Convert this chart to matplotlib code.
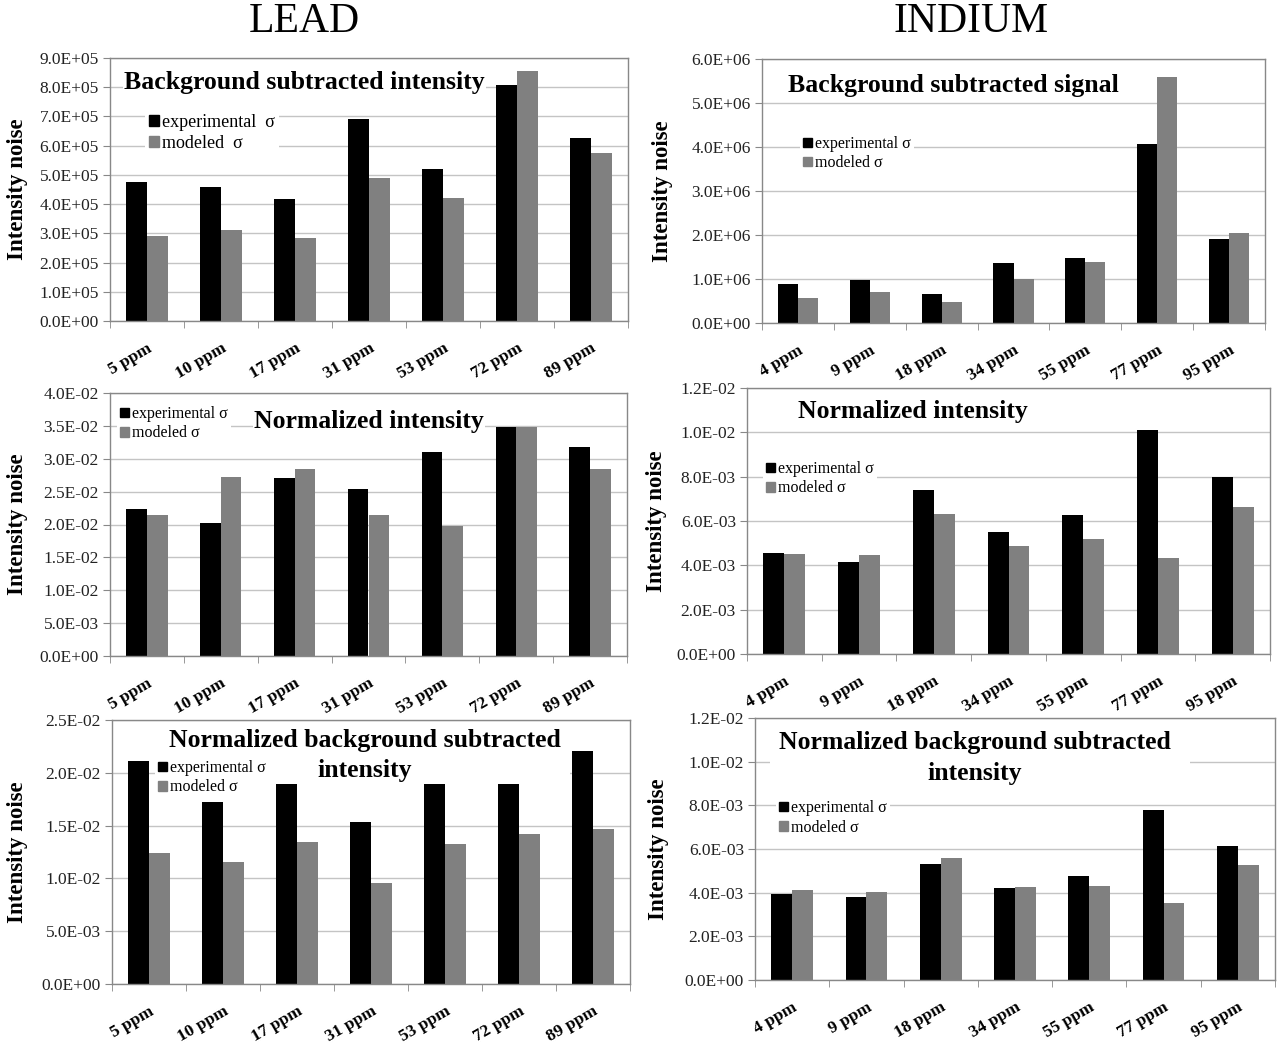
import numpy as np
import matplotlib
matplotlib.use('Agg')
import matplotlib.pyplot as plt
from matplotlib.patches import Patch, Rectangle
from matplotlib.ticker import FuncFormatter, FixedLocator

plt.rcParams['font.family'] = ['Liberation Serif', 'DejaVu Serif']

# concentrations
lead_ppm = ['5 ppm', '10 ppm', '17 ppm', '31 ppm', '53 ppm', '72 ppm', '89 ppm']
indium_ppm = ['4 ppm', '9 ppm', '18 ppm', '34 ppm', '55 ppm', '77 ppm', '95 ppm']

# lead: background subtracted intensity
pb_bgsub_exp = [4.75e5, 4.57e5, 4.18e5, 6.91e5, 5.21e5, 8.09e5, 6.25e5]
pb_bgsub_mod = [2.90e5, 3.13e5, 2.84e5, 4.89e5, 4.22e5, 8.54e5, 5.76e5]

# indium: background subtracted signal
in_bgsub_exp = [0.88e6, 0.975e6, 0.67e6, 1.36e6, 1.48e6, 4.07e6, 1.91e6]
in_bgsub_mod = [0.57e6, 0.71e6, 0.47e6, 1.01e6, 1.39e6, 5.58e6, 2.05e6]

# lead: normalized intensity
pb_norm_exp = [22.3e-3, 20.2e-3, 27.0e-3, 25.4e-3, 31.0e-3, 34.8e-3, 31.8e-3]
pb_norm_mod = [21.5e-3, 27.2e-3, 28.5e-3, 21.5e-3, 19.7e-3, 34.8e-3, 28.5e-3]

# indium: normalized intensity
in_norm_exp = [4.56e-3, 4.14e-3, 7.41e-3, 5.50e-3, 6.28e-3, 10.11e-3, 7.97e-3]
in_norm_mod = [4.53e-3, 4.47e-3, 6.33e-3, 4.86e-3, 5.20e-3, 4.35e-3, 6.65e-3]

# lead: normalized background subtracted intensity
pb_nbg_exp = [21.1e-3, 17.2e-3, 18.9e-3, 15.3e-3, 18.9e-3, 18.9e-3, 22.1e-3]
pb_nbg_mod = [12.4e-3, 11.6e-3, 13.4e-3, 9.6e-3, 13.3e-3, 14.2e-3, 14.7e-3]

# indium: normalized background subtracted intensity
in_nbg_exp = [3.93e-3, 3.82e-3, 5.30e-3, 4.21e-3, 4.75e-3, 7.79e-3, 6.16e-3]
in_nbg_mod = [4.13e-3, 4.04e-3, 5.61e-3, 4.25e-3, 4.32e-3, 3.53e-3, 5.28e-3]

W, H = 1280, 1043


def box(l, r, t, b):
    # pixel box -> figure fraction rect
    return [l / W, 1 - b / H, (r - l) / W, (b - t) / H]


def panel(fig, rect, cats, exp, mod, ymax, ystep, ylab_x, leg_pos, leg_size, labels):
    ax = fig.add_axes(rect)
    x = np.arange(len(cats))
    bw = 0.28
    ax.bar(x - bw / 2, exp, bw, color='black', zorder=2)
    ax.bar(x + bw / 2, mod, bw, color='#808080', zorder=2)
    ax.set_xlim(-0.5, len(cats) - 0.5)
    ax.set_ylim(0, ymax)

    ax.yaxis.set_major_locator(FixedLocator(np.arange(0, ymax + ystep / 2, ystep)))
    ax.yaxis.set_major_formatter(FuncFormatter(lambda v, p: f'{v:.1E}'))
    ax.yaxis.grid(True, color='#c4c4c4', linewidth=1.0)
    ax.set_axisbelow(True)

    ax.set_xticks(x)
    ax.set_xticklabels(cats, rotation=30, ha='right', va='top',
                       rotation_mode='anchor', fontweight='bold', fontsize=12.5)
    ax.set_xticks(np.arange(-0.5, len(cats)), minor=True)
    ax.tick_params(axis='x', which='major', length=0, pad=14)
    ax.tick_params(axis='x', which='minor', length=5, color='#888888')
    ax.tick_params(axis='y', length=5, color='#888888', labelsize=12.5,
                   labelcolor='#222222', pad=3)
    for s in ax.spines.values():
        s.set_color('#888888')
        s.set_linewidth(1.0)

    ax.set_ylabel('Intensity noise', fontsize=16.5, fontweight='bold')
    ax.yaxis.set_label_coords(ylab_x, 0.5)

    handles = [Patch(color='black'), Patch(color='#808080')]
    leg = ax.legend(handles, labels, loc='upper left', bbox_to_anchor=leg_pos,
                    fontsize=leg_size, frameon=True, fancybox=False,
                    handlelength=0.55, handleheight=0.55, handletextpad=0.2,
                    labelspacing=0.2, borderpad=0.2, borderaxespad=0)
    leg.get_frame().set_facecolor('white')
    leg.get_frame().set_edgecolor('none')
    leg.get_frame().set_alpha(1)
    leg.set_zorder(5)
    return ax


def title_one(ax, text, pos):
    ax.text(pos[0], pos[1], text, transform=ax.transAxes, ha='center',
            va='center', fontsize=18.5, fontweight='bold',
            bbox=dict(facecolor='white', edgecolor='none', pad=1), zorder=5)


def title_two(ax, lines, x, ys, cover):
    # white patch behind both lines hides the gridlines, bars stay on top
    x0, x1, y0, y1 = cover
    ax.add_patch(Rectangle((x0, y0), x1 - x0, y1 - y0, transform=ax.transAxes,
                           facecolor='white', edgecolor='none', zorder=1))
    for txt, y in zip(lines, ys):
        ax.text(x, y, txt, transform=ax.transAxes, ha='center', va='center',
                fontsize=18.5, fontweight='bold', zorder=5)


fig = plt.figure(figsize=(12.8, 10.43), dpi=100)

fig.text(304 / W, 1 - 22 / H, 'LEAD', ha='center', va='center', fontsize=30)
fig.text(971 / W, 1 - 22 / H, 'INDIUM', ha='center', va='center', fontsize=30)

lab_wide = ['experimental  σ', 'modeled  σ']
lab = ['experimental σ', 'modeled σ']

ax1 = panel(fig, box(110, 628, 58, 321), lead_ppm, pb_bgsub_exp, pb_bgsub_mod,
            9e5, 1e5, -0.158, (0.068, 0.80), 13, lab_wide)
title_one(ax1, 'Background subtracted intensity', (0.376, 0.905))

ax2 = panel(fig, box(762, 1265, 59, 323), indium_ppm, in_bgsub_exp, in_bgsub_mod,
            6e6, 1e6, -0.177, (0.076, 0.72), 11.5, lab)
title_one(ax2, 'Background subtracted signal', (0.380, 0.898))

ax3 = panel(fig, box(110, 627, 393, 656), lead_ppm, pb_norm_exp, pb_norm_mod,
            0.04, 0.005, -0.158, (0.0135, 0.962), 11.5, lab)
title_one(ax3, 'Normalized intensity', (0.501, 0.89))

ax4 = panel(fig, box(747, 1270, 388, 654), indium_ppm, in_norm_exp, in_norm_mod,
            0.012, 0.002, -0.153, (0.031, 0.737), 11.5, lab)
title_one(ax4, 'Normalized intensity', (0.317, 0.91))

ax5 = panel(fig, box(112, 630, 720, 984), lead_ppm, pb_nbg_exp, pb_nbg_mod,
            0.025, 0.005, -0.162, (0.083, 0.86), 11.5, lab)
title_two(ax5, ['Normalized background subtracted', 'intensity'], 0.488,
          (0.924, 0.807), (0.093, 0.884, 0.75, 0.975))

ax6 = panel(fig, box(755, 1275, 718, 980), indium_ppm, in_nbg_exp, in_nbg_mod,
            0.012, 0.002, -0.165, (0.040, 0.698), 11.5, lab)
title_two(ax6, ['Normalized background subtracted', 'intensity'], 0.423,
          (0.905, 0.79), (0.029, 0.837, 0.737, 0.954))

fig.savefig('out.png', dpi=100)
